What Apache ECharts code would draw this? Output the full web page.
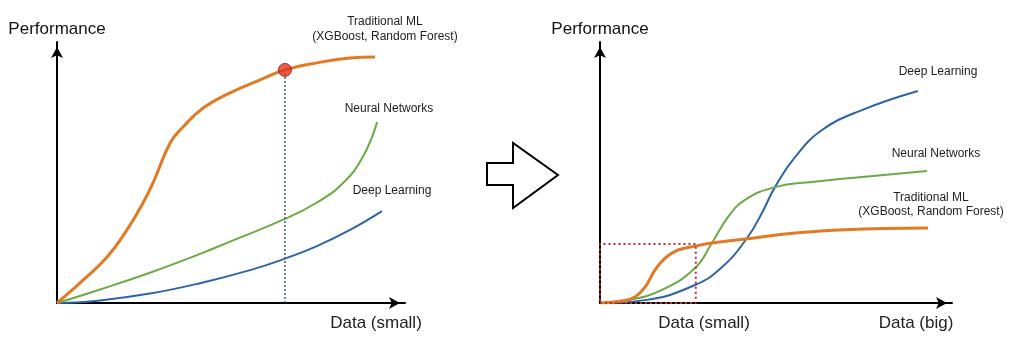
<!DOCTYPE html>
<html>
<head>
<meta charset="utf-8">
<title>Performance vs Data</title>
<script src="https://cdn.jsdelivr.net/npm/echarts@6/dist/echarts.min.js"></script>
<style>
  html, body { margin: 0; padding: 0; background: #fff; }
  #chart { width: 1013px; height: 345px; }
</style>
</head>
<body>
<div id="chart"></div>
<script>
// Small-data view (left panel): [data amount, performance]
const smallTraditional = [[0,0],[7.5,8.8],[14.4,17.6],[20.1,28],[24.7,38.3],[27.6,46],[32.5,61.3],[36.2,67.4],[42,74.7],[49.7,80.5],[57.5,85.0],[65.5,89.3],[74.7,92],[84.2,93.9],[91.4,94.3]];
const smallNeural = [[0,0],[12.4,5.2],[26.7,11.6],[41.1,18.8],[50.6,24.0],[65.5,32.2],[74.7,38.5],[82.2,46],[87.9,56],[92,69.3]];
const smallDeep = [[0,0],[12.4,1.0],[26.7,3.6],[41.1,7.6],[55.5,12.6],[65.5,17.0],[74.7,21.8],[84.2,28.0],[93.4,35.2]];
const highlightPoint = [[65.5, 89.3]];
const highlightDrop = [[65.5, 0], [65.5, 89.3]];

// Big-data view (right panel)
const bigTraditional = [[0,0],[6.3,0.8],[9.9,2.3],[12.8,6.1],[15.6,12.6],[18.5,17.2],[22.2,20.3],[27,21.8],[31.8,23],[41.2,24.5],[55.4,26.8],[69.6,28.1],[93.2,28.7]];
const bigNeural = [[0,0],[8,1.1],[17.6,5],[27,13.4],[31.8,23],[36.4,33],[41.2,39.5],[49.7,44.4],[60.2,46.4],[74.4,48.3],[92.9,50.6]];
const bigDeep = [[0,0],[12.8,1.1],[27,6.9],[34.7,13.8],[41.8,24.9],[46,34.5],[49.7,44.4],[55.4,55.9],[63.1,66.3],[74.4,73.9],[90.3,81.2]];
const smallDataBox = [[0,0],[27.2,0],[27.2,22.6],[0,22.6],[0,0]];

const axisTitle = 'Performance';
const xTitles = ['Data (small)', 'Data (small)', 'Data (big)'];
const seriesNames = ['Traditional ML', '(XGBoost, Random Forest)', 'Neural Networks', 'Deep Learning'];

const ORANGE = '#E07A25', GREEN = '#6BAA45', BLUE = '#2F64A8';
const FONT = 'Liberation Sans, Arial, Helvetica, sans-serif';

const chart = echarts.init(document.getElementById('chart'), null, { renderer: 'canvas' });

function axisLine() {
  return {
    show: true,
    symbol: ['none', 'arrow'],
    symbolSize: [9, 11],
    symbolOffset: [0, -5],
    lineStyle: { color: '#000', width: 2 }
  };
}
function xAx(idx) {
  return {
    type: 'value', gridIndex: idx, min: 0, max: 100,
    axisLine: axisLine(), axisTick: { show: false }, axisLabel: { show: false }, splitLine: { show: false }
  };
}
function yAx(idx) {
  return {
    type: 'value', gridIndex: idx, min: 0, max: 100,
    name: axisTitle, nameLocation: 'end', nameGap: 4,
    nameTextStyle: { fontSize: 17, color: '#111', fontFamily: FONT },
    axisLine: axisLine(), axisTick: { show: false }, axisLabel: { show: false }, splitLine: { show: false }
  };
}
function curve(name, data, color, width, idx, z) {
  return {
    type: 'line', name, data, xAxisIndex: idx, yAxisIndex: idx,
    smooth: 0.45, symbol: 'none', z: z || 2,
    lineStyle: { color, width }, silent: true
  };
}
function label(text, x, y, size) {
  return {
    type: 'text', x, y, silent: true,
    style: { text, align: 'center', verticalAlign: 'middle', fontSize: size || 12, fontFamily: FONT, fill: '#222' }
  };
}

chart.setOption({
  animation: false,
  backgroundColor: '#fff',
  grid: [
    { left: 57, top: 42, width: 348, height: 261 },
    { left: 600, top: 42, width: 352, height: 261 }
  ],
  xAxis: [xAx(0), xAx(1)],
  yAxis: [yAx(0), yAx(1)],
  series: [
    curve(seriesNames[3], smallDeep, BLUE, 2, 0),
    curve(seriesNames[2], smallNeural, GREEN, 2, 0),
    {
      type: 'line', data: highlightDrop, xAxisIndex: 0, yAxisIndex: 0, symbol: 'none', silent: true,
      lineStyle: { color: '#3A5F90', width: 1.5, type: [2, 2] }
    },
    curve(seriesNames[0], smallTraditional, ORANGE, 3, 0, 3),
    {
      type: 'scatter', data: highlightPoint, xAxisIndex: 0, yAxisIndex: 0, symbolSize: 13, z: 5, silent: true,
      itemStyle: { color: '#E8321E', borderColor: '#7A1A10', borderWidth: 1 }
    },
    {
      type: 'line', data: smallDataBox, xAxisIndex: 1, yAxisIndex: 1, symbol: 'none', silent: true, z: 4,
      lineStyle: { color: '#B8312A', width: 2, type: [2, 3] }
    },
    curve(seriesNames[3], bigDeep, BLUE, 2, 1),
    curve(seriesNames[2], bigNeural, GREEN, 2, 1),
    curve(seriesNames[0], bigTraditional, ORANGE, 3, 1, 3)
  ],
  graphic: [
    label(seriesNames[0], 385, 22),
    label(seriesNames[1], 385, 37),
    label(seriesNames[2], 389, 109),
    label(seriesNames[3], 392, 191),
    label(seriesNames[3], 938, 72),
    label(seriesNames[2], 936, 154),
    label(seriesNames[0], 931, 198),
    label(seriesNames[1], 931, 212),
    label(xTitles[0], 376, 323, 17),
    label(xTitles[1], 704, 323, 17),
    label(xTitles[2], 916, 323, 17),
    {
      type: 'polygon', silent: true,
      shape: { points: [[487,163],[513,163],[513,143],[558,175],[513,208],[513,185],[487,185]] },
      style: { fill: '#fff', stroke: '#000', lineWidth: 2 }
    }
  ]
});
</script>
</body>
</html>
